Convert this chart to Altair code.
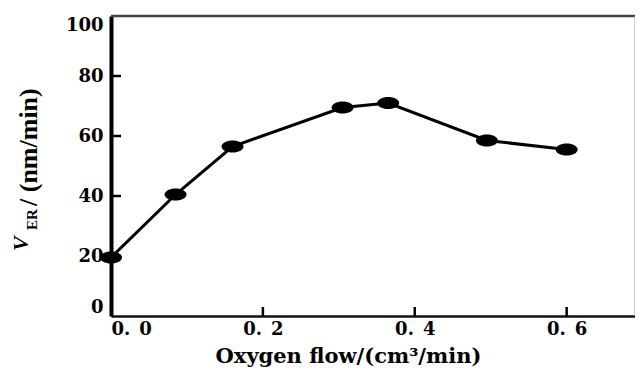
import altair as alt
import pandas as pd

# data
flow = [0.0, 0.085, 0.16, 0.305, 0.365, 0.495, 0.6]
rate = [19.5, 40.5, 56.5, 69.5, 71.0, 58.5, 55.5]
y_ticks = [0, 20, 40, 60, 80, 100]
x_ticks = [0.0, 0.2, 0.4, 0.6]
y_inner_ticks = [20, 40, 60, 80]
x_inner_ticks = [0.2, 0.4, 0.6]

W, H = 524, 300
SERIF = "Liberation Serif"
WIDE = "DejaVu Serif"

df = pd.DataFrame({"flow": flow, "rate": rate})
one = alt.Data(values=[{"a": 1}])

xs = alt.Scale(domain=[0, 0.69], nice=False, zero=False)
ys = alt.Scale(domain=[0, 100], nice=False)

x_axis = alt.Axis(
    values=x_ticks,
    labelExpr="replace(format(datum.value, '.1f'), '.', '.\u2002')",
    ticks=False, grid=False,
    domainColor="#111", domainWidth=2.5,
    labelFont=WIDE, labelFontSize=18, labelFontWeight="bold", labelColor="black",
    labelPadding=4, labelFlush=True,
    title="Oxygen flow/(cm³/min)",
    titleFont=WIDE, titleFontSize=21, titleFontWeight="bold", titleColor="black",
    titleX=237, titleY=46, titleBaseline="alphabetic", titleAlign="center",
)
y_axis = alt.Axis(
    values=y_ticks,
    format="d",
    ticks=False, grid=False,
    domainColor="black", domainWidth=4,
    labelFont=WIDE, labelFontSize=18, labelFontWeight="bold", labelColor="black",
    labelPadding=8, labelFlush=True,
    title=None,
)

line = alt.Chart(df).mark_line(color="black", strokeWidth=3).encode(
    x=alt.X("flow:Q", scale=xs, axis=x_axis),
    y=alt.Y("rate:Q", scale=ys, axis=y_axis),
)

ellipse = "M -1 0 A 1 0.55 0 1 0 1 0 A 1 0.55 0 1 0 -1 0 Z"
points = alt.Chart(df).mark_point(
    shape=ellipse, filled=True, size=484, color="black", opacity=1
).encode(
    x=alt.X("flow:Q", scale=xs, axis=x_axis),
    y=alt.Y("rate:Q", scale=ys, axis=y_axis),
)

ytick_df = pd.DataFrame({"v": y_inner_ticks})
xtick_df = pd.DataFrame({"v": x_inner_ticks})

yt = alt.Chart(ytick_df).mark_rule(color="black", strokeWidth=2.5).encode(
    y=alt.Y("v:Q", scale=ys, axis=y_axis),
    x=alt.value(0), x2=alt.value(10),
)
xt = alt.Chart(xtick_df).mark_rule(color="black", strokeWidth=2.5).encode(
    x=alt.X("v:Q", scale=xs, axis=x_axis),
    y=alt.value(H), y2=alt.value(H - 9),
)

top_border = alt.Chart(one).mark_rule(color="#444", strokeWidth=2.5).encode(
    x=alt.value(0), x2=alt.value(W), y=alt.value(0)
)
right_border = alt.Chart(one).mark_rule(color="#999", strokeWidth=1).encode(
    x=alt.value(W), y=alt.value(0), y2=alt.value(H)
)

# y-axis title pieces: italic V, subscript ER, then "/ (nm/min)"
t_v = alt.Chart(one).mark_text(
    text="V", angle=270, align="left", baseline="alphabetic",
    font=SERIF, fontSize=22, fontStyle="italic", fontWeight="bold", color="black"
).encode(x=alt.value(-83), y=alt.value(235))
t_er = alt.Chart(one).mark_text(
    text="ER", angle=270, align="left", baseline="alphabetic",
    font=SERIF, fontSize=15, fontWeight="bold", color="black"
).encode(x=alt.value(-74), y=alt.value(214))
t_rest = alt.Chart(one).mark_text(
    text="/ (nm/min)", angle=270, align="left", baseline="alphabetic",
    font=SERIF, fontSize=26, fontWeight="bold", color="black"
).encode(x=alt.value(-74), y=alt.value(190))

chart = alt.layer(
    line, points, yt, xt, top_border, right_border, t_v, t_er, t_rest
).properties(
    width=W, height=H,
    padding={"left": 103, "top": 8, "right": 0, "bottom": 52},
    autosize=alt.AutoSizeParams(type="none"),
    background="white",
).configure_view(stroke=None)

chart.save("out.html", embed_options={"renderer": "svg", "actions": False})
